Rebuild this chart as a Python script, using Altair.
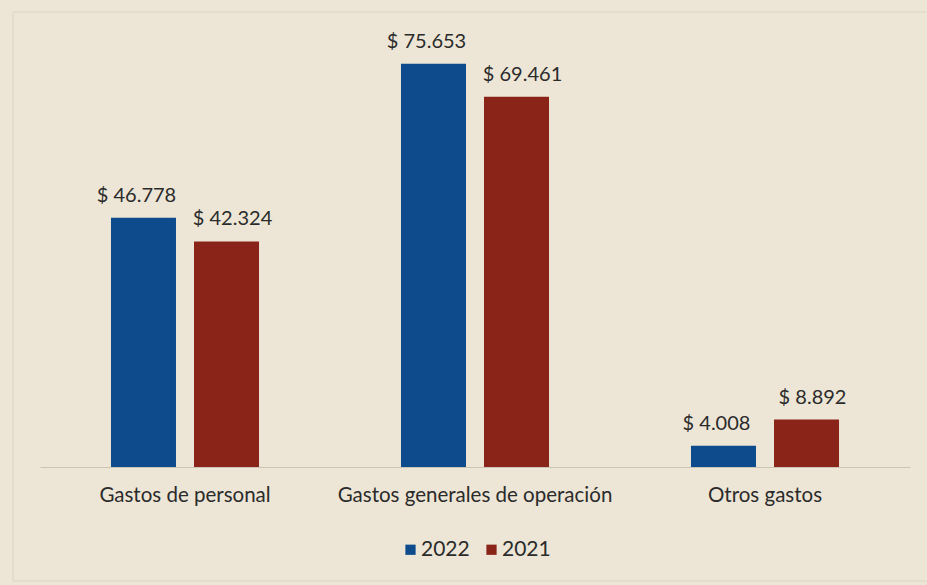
import altair as alt
import pandas as pd

categories = ["Gastos de personal", "Gastos generales de operación", "Otros gastos"]
years = ["2022", "2021"]
values_2022 = [46.778, 75.653, 4.008]
values_2021 = [42.324, 69.461, 8.892]
labels_2022 = ["$ 46.778", "$ 75.653", "$ 4.008"]
labels_2021 = ["$ 42.324", "$ 69.461", "$ 8.892"]

rows = []
for i, c in enumerate(categories):
    rows.append({"cat": c, "year": "2022", "value": values_2022[i], "label": labels_2022[i]})
    rows.append({"cat": c, "year": "2021", "value": values_2021[i], "label": labels_2021[i]})
df = pd.DataFrame(rows)

FONT = "Lato"
BLUE = "#0d4b8c"
RED = "#8a2419"
BG = "#ede6d6"
TXT = "#2b2b2b"

x = alt.X("cat:N", sort=categories, title=None,
          scale=alt.Scale(paddingInner=0, paddingOuter=0),
          axis=alt.Axis(labelAngle=0, labelFont=FONT, labelFontSize=20.5, labelColor=TXT,
                        labelPadding=18, labelLimit=0, ticks=False,
                        domainColor="#cbc4b4", domainWidth=1.2))
xo = alt.XOffset("year:N", sort=years, scale=alt.Scale(paddingInner=0.217, paddingOuter=0.855))
y = alt.Y("value:Q", scale=alt.Scale(domain=[0, 85], nice=False), axis=None)

frame = alt.Chart(pd.DataFrame({"f": [0]})).mark_rect(
    fillOpacity=0, stroke="#dbd4c4", strokeWidth=1
).encode(x=alt.value(-27), x2=alt.value(900), y=alt.value(-2), y2=alt.value(567))

bars = alt.Chart(df).mark_bar().encode(
    x=x, xOffset=xo, y=y,
    color=alt.Color("year:N", sort=years,
                    scale=alt.Scale(domain=years, range=[BLUE, RED]),
                    legend=alt.Legend(title=None, orient="none", direction="horizontal",
                                      legendX=360, legendY=525, symbolType="square",
                                      symbolSize=105, symbolStrokeWidth=0, labelFont=FONT,
                                      labelFontSize=21, labelColor=TXT, columnPadding=11,
                                      labelOffset=0, padding=0)),
)

text22 = alt.Chart(df).transform_filter(alt.datum.year == "2022").mark_text(
    baseline="bottom", dy=-12, dx=-7, font=FONT, fontSize=20, color=TXT
).encode(x=x, xOffset=xo, y=y, text="label:N")

text21 = alt.Chart(df).transform_filter(alt.datum.year == "2021").mark_text(
    baseline="bottom", dy=-12, dx=6, font=FONT, fontSize=20, color=TXT
).encode(x=x, xOffset=xo, y=y, text="label:N")

chart = alt.layer(frame, bars, text22, text21).properties(
    width=870, height=453, background=BG,
    padding={"left": 40, "top": 14, "right": 17, "bottom": 118},
    autosize=alt.AutoSizeParams(type="none"),
).configure_view(stroke=None)

chart.save("out.html", embed_options={"renderer": "svg", "actions": False})
